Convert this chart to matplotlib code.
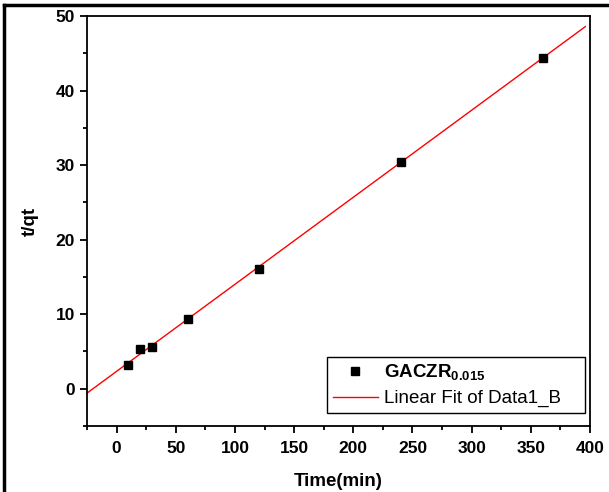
import numpy as np
import matplotlib
matplotlib.use("Agg")
from matplotlib import pyplot as plt
from matplotlib.lines import Line2D

plt.rcParams['font.family'] = ['Liberation Sans', 'DejaVu Sans']
plt.rcParams['mathtext.fontset'] = 'custom'
plt.rcParams['mathtext.rm'] = 'Liberation Sans'
plt.rcParams['mathtext.bf'] = 'Liberation Sans:bold'

# data
time_min = [10, 20, 30, 60, 120, 240, 360]
t_qt = [3.2, 5.3, 5.6, 9.4, 16.1, 30.4, 44.4]
x_ticks = [0, 50, 100, 150, 200, 250, 300, 350, 400]
y_ticks = [0, 10, 20, 30, 40, 50]

fig = plt.figure(figsize=(6.09, 4.92), dpi=100)
ax = fig.add_axes([87 / 609, 1 - 426 / 492, 503 / 609, 410 / 492])

# linear fit
slope, intercept = np.polyfit(time_min, t_qt, 1)
fit_x = np.array([-25, 396])
ax.plot(fit_x, slope * fit_x + intercept, color='red', lw=1,
        label='Linear Fit of Data1_B', zorder=2)
ax.plot(time_min, t_qt, 's', color='black', ms=6, ls='none',
        label=r'$\mathbf{GACZR}_{\mathbf{0.015}}$', zorder=3)

ax.set_xlim(-25, 400)
ax.set_ylim(-5, 50)
ax.set_xticks(x_ticks)
ax.set_xticks([-25, 25, 75, 125, 175, 225, 275, 325, 375], minor=True)
ax.set_yticks(y_ticks)
ax.set_yticks([-5, 5, 15, 25, 35, 45], minor=True)
ax.tick_params(which='major', direction='out', length=5, width=1.3,
               labelsize=12.5)
ax.tick_params(axis='x', which='major', pad=6)
ax.tick_params(which='minor', direction='out', length=3, width=1.3)
for lab in ax.get_xticklabels() + ax.get_yticklabels():
    lab.set_fontweight('bold')
for sp in ax.spines.values():
    sp.set_linewidth(1.3)

ax.set_xlabel('Time(min)', fontsize=13.5, fontweight='bold', labelpad=12)
ax.set_ylabel('t/qt', fontsize=13.5, fontweight='bold', labelpad=12)

handles, labels = ax.get_legend_handles_labels()
leg = ax.legend(handles[::-1], labels[::-1], loc='lower left',
                bbox_to_anchor=(0.4771, 0.0317, 0.5129, 0.2),
                mode='expand', borderaxespad=0,
                fontsize=13.5, numpoints=1,
                fancybox=False, framealpha=1, edgecolor='black',
                handlelength=2.4, borderpad=0.3, labelspacing=0.4,
                handletextpad=0.32)
leg.get_frame().set_linewidth(1.0)

# outer frame lines of the figure
fig.add_artist(Line2D([4 / 609, 1], [1 - 5 / 492, 1 - 5 / 492],
                      transform=fig.transFigure, color='black', lw=2.5))
fig.add_artist(Line2D([4 / 609, 4 / 609], [0, 1 - 5 / 492],
                      transform=fig.transFigure, color='black', lw=2.5))

fig.savefig('out.png', dpi=100)
